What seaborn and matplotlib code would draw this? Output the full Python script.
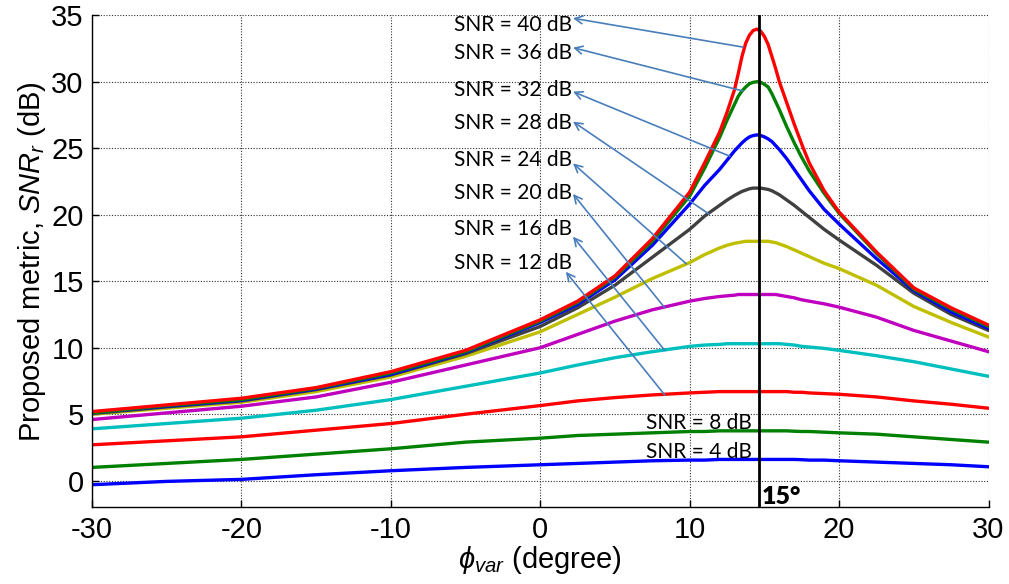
import numpy as np
import pandas as pd
import seaborn as sns
import matplotlib
matplotlib.use("Agg")
import matplotlib.pyplot as plt

# angle of the variable element, degrees
phi = [-30, -25, -20, -15, -10, -5, 0, 2.5, 5, 7.5, 10, 11, 12, 12.5, 13, 13.25, 13.5, 13.75,
       14, 14.25, 14.5, 14.75, 15, 15.25, 15.5, 15.75, 16, 16.5, 17, 17.5, 18, 19, 20,
       22.5, 25, 27.5, 30]

# proposed metric SNR_r (dB), one list per input SNR
snr4 = [-0.3, -0.05, 0.1, 0.45, 0.75, 1.0, 1.2, 1.3, 1.4, 1.5, 1.55, 1.55, 1.6, 1.6, 1.6, 1.6, 1.6, 1.6,
        1.6, 1.6, 1.6, 1.6, 1.6, 1.6, 1.6, 1.6, 1.6, 1.6, 1.6, 1.58, 1.55, 1.55, 1.5,
        1.4, 1.3, 1.2, 1.05]
snr8 = [1.0, 1.3, 1.6, 2.0, 2.4, 2.9, 3.2, 3.4, 3.5, 3.6, 3.7, 3.7, 3.75, 3.75, 3.75, 3.75, 3.75, 3.75,
        3.75, 3.75, 3.75, 3.75, 3.75, 3.75, 3.75, 3.75, 3.75, 3.75, 3.72, 3.7, 3.7, 3.65, 3.6,
        3.5, 3.3, 3.1, 2.9]
snr12 = [2.7, 3.0, 3.3, 3.8, 4.3, 5.0, 5.65, 6.0, 6.25, 6.45, 6.6, 6.65, 6.7, 6.7, 6.7, 6.7, 6.7, 6.7,
         6.7, 6.7, 6.7, 6.7, 6.7, 6.7, 6.7, 6.7, 6.7, 6.7, 6.65, 6.65, 6.6, 6.55, 6.5,
         6.3, 6.0, 5.75, 5.45]
snr16 = [3.9, 4.3, 4.7, 5.3, 6.1, 7.1, 8.1, 8.7, 9.25, 9.7, 10.1, 10.2, 10.25, 10.3, 10.3, 10.3, 10.3, 10.3,
         10.3, 10.3, 10.3, 10.3, 10.3, 10.3, 10.3, 10.3, 10.3, 10.25, 10.2, 10.1, 10.05, 9.95, 9.8,
         9.4, 8.95, 8.4, 7.85]
snr20 = [4.6, 5.1, 5.6, 6.3, 7.4, 8.7, 10.0, 11.0, 12.0, 12.85, 13.5, 13.7, 13.85, 13.9, 13.95, 14.0, 14.0, 14.0,
         14.0, 14.0, 14.0, 14.0, 14.0, 14.0, 14.0, 14.0, 13.95, 13.85, 13.75, 13.6, 13.5, 13.3, 13.05,
         12.3, 11.3, 10.5, 9.7]
snr24 = [5.0, 5.45, 5.9, 6.7, 7.8, 9.35, 11.2, 12.5, 13.8, 15.2, 16.4, 17.0, 17.5, 17.7, 17.85, 17.9, 17.95, 18.0,
         18.0, 18.0, 18.0, 18.0, 18.0, 18.0, 17.95, 17.9, 17.8, 17.6, 17.35, 17.1, 16.85, 16.35, 15.95,
         14.7, 13.1, 11.9, 10.8]
snr28 = [5.05, 5.55, 6.0, 6.85, 7.95, 9.55, 11.6, 13.0, 14.7, 16.8, 18.9, 19.9, 20.7, 21.1, 21.45, 21.6, 21.75, 21.85,
         21.95, 22.0, 22.0, 22.0, 21.95, 21.9, 21.8, 21.65, 21.5, 21.1, 20.7, 20.25, 19.8, 18.9, 18.1,
         16.2, 14.1, 12.5, 11.3]
snr32 = [5.1, 5.6, 6.05, 6.9, 8.0, 9.65, 11.9, 13.25, 15.1, 17.7, 20.8, 22.2, 23.4, 24.1, 24.8, 25.1, 25.4, 25.65,
         25.85, 25.95, 26.0, 25.95, 25.85, 25.7, 25.5, 25.2, 24.9, 24.2, 23.4, 22.6, 21.8, 20.4, 19.3,
         16.7, 14.3, 12.7, 11.45]
snr36 = [5.1, 5.65, 6.1, 6.95, 8.1, 9.7, 12.0, 13.4, 15.3, 18.0, 21.4, 23.5, 25.8, 27.1, 28.3, 28.9, 29.3, 29.6,
         29.85, 29.95, 30.0, 29.95, 29.8, 29.6, 29.1, 28.5, 27.9, 26.6, 25.4, 24.3, 23.3, 21.6, 20.1,
         17.1, 14.4, 12.9, 11.6]
snr40 = [5.2, 5.7, 6.2, 7.0, 8.2, 9.8, 12.1, 13.5, 15.4, 18.2, 21.7, 23.9, 26.2, 27.7, 29.4, 30.6, 31.9, 32.9,
         33.5, 33.85, 33.95, 33.8, 33.4, 32.8, 31.9, 31.0, 30.0, 28.4, 26.8, 25.3, 23.9, 21.8, 20.2,
         17.2, 14.5, 13.0, 11.7]

snr_levels = [4, 8, 12, 16, 20, 24, 28, 32, 36, 40]
curves = [snr4, snr8, snr12, snr16, snr20, snr24, snr28, snr32, snr36, snr40]
colors = ['#0000ff', '#008000', '#ff0000', '#00bfbf', '#bf00bf',
          '#bfbf00', '#404040', '#0000ff', '#008000', '#ff0000']

df = pd.concat([pd.DataFrame({'phi': phi, 'snr_r': c, 'snr': s})
                for s, c in zip(snr_levels, curves)], ignore_index=True)

sns.set_style("white")
plt.rcParams['font.family'] = ['Liberation Sans', 'DejaVu Sans']
plt.rcParams['text.color'] = 'black'
plt.rcParams['axes.labelcolor'] = 'black'
plt.rcParams['axes.unicode_minus'] = False
plt.rcParams['mathtext.fontset'] = 'custom'
plt.rcParams['mathtext.rm'] = 'Liberation Sans'
plt.rcParams['mathtext.it'] = 'Liberation Sans:italic'
plt.rcParams['mathtext.fallback'] = 'stix'

fig = plt.figure(figsize=(10.09, 5.84), dpi=100)
ax = fig.add_axes([0.0912, 0.1313, 0.8885, 0.8427])

sns.lineplot(data=df, x='phi', y='snr_r', hue='snr', hue_order=snr_levels,
             palette=dict(zip(snr_levels, colors)), linewidth=2.4, legend=False, ax=ax)

ax.axvline(14.65, color='black', lw=2)

ax.set_xlim(-30, 30)
ax.set_ylim(-2, 35)
ax.set_xticks([-30, -20, -10, 0, 10, 20, 30])
ax.set_yticks([0, 5, 10, 15, 20, 25, 30, 35])
ax.grid(True, color='#303030', linestyle=(0, (1, 1.5)), linewidth=0.8)
for side in ['top', 'right']:
    ax.spines[side].set_visible(False)
for side in ['left', 'bottom']:
    ax.spines[side].set_color('black')
    ax.spines[side].set_linewidth(1.0)
ax.tick_params(direction='in', length=5, width=1, labelsize=21, colors='black',
               left=True, bottom=True, pad=6)

ax.set_xlabel(r'$\phi_{var}$ (degree)', fontsize=21, labelpad=0)
ax.set_ylabel(r'Proposed metric, $SNR_r$ (dB)', fontsize=21, labelpad=2)

# labels with arrows pointing from curve to label
lab_font = ['Lato', 'DejaVu Sans']
labels = [
    (40, 34.26, (2.19, 34.77), (13.57, 32.6)),
    (36, 32.18, (2.19, 32.56), (13.57, 29.3)),
    (32, 29.38, (2.19, 29.25), (12.68, 24.4)),
    (28, 26.88, (2.19, 27.0), (11.29, 20.05)),
    (24, 24.12, (2.19, 23.86), (9.78, 16.3)),
    (20, 21.65, (2.19, 21.56), (8.33, 13.0)),
    (16, 18.9, (2.19, 18.35), (8.33, 9.8)),
    (12, 16.34, (1.71, 15.71), (8.33, 6.45)),
]
for s, ty, head, tail in labels:
    ax.text(-5.79, ty, f'SNR = {s} dB', fontsize=15, family=lab_font, va='center', ha='left')
    ax.annotate('', xy=head, xytext=tail,
                arrowprops=dict(arrowstyle='->', color='#4a7ebb', lw=1.2,
                                shrinkA=0, shrinkB=0, mutation_scale=14))

ax.text(7.1, 4.31, 'SNR = 8 dB', fontsize=15, family=lab_font, va='center', ha='left')
ax.text(7.1, 2.18, 'SNR = 4 dB', fontsize=15, family=lab_font, va='center', ha='left')
ax.text(14.8, -1.2, '15°', fontsize=18, family=lab_font, fontweight='heavy', va='center', ha='left')

fig.savefig('out.png', dpi=100)
